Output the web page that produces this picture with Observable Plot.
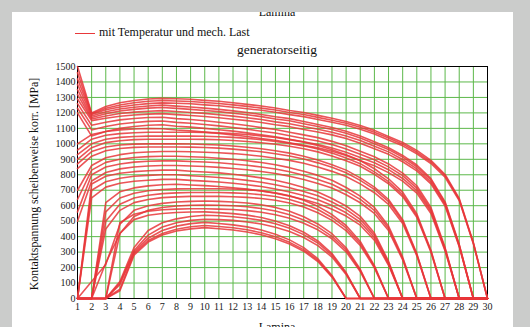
<!DOCTYPE html>
<html><head><meta charset="utf-8">
<script src="https://cdn.jsdelivr.net/npm/d3@7"></script>
<script src="https://cdn.jsdelivr.net/npm/@observablehq/plot@0.6"></script>
<style>
html,body{margin:0;padding:0;background:#cbcccb;width:530px;height:327px;overflow:hidden;}
#panel{position:absolute;left:12px;top:12px;width:501px;height:315px;background:#fff;overflow:hidden;font-family:"Liberation Serif","Times New Roman",serif;color:#111;}
.t{position:absolute;white-space:nowrap;line-height:1;}
#chart{position:absolute;left:0;top:0;}
</style></head><body>
<div id="panel">
  <div class="t" style="left:265px;top:-6px;font-size:12px;transform:translateX(-50%);">Lamina</div>
  <div style="position:absolute;left:63px;top:21px;width:20px;height:1px;background:#e8383a;"></div>
  <div class="t" style="left:87px;top:13.5px;font-size:12px;">mit Temperatur und mech. Last</div>
  <div class="t" style="left:265px;top:30.7px;font-size:13.5px;transform:translateX(-50%);">generatorseitig</div>
  <div class="t" style="left:23px;top:172px;font-size:11.8px;transform:translate(-50%,-50%) rotate(-90deg);">Kontaktspannung scheibenweise korr. [MPa]</div>
  <div class="t" style="left:265px;top:309px;font-size:12px;transform:translateX(-50%);">Lamina</div>
  <div id="chart"></div>
</div>
<script>
const lamina = [1,2,3,4,5,6,7,8,9,10,11,12,13,14,15,16,17,18,19,20,21,22,23,24,25,26,27,28,29,30];
const xTicks = [1,2,3,4,5,6,7,8,9,10,11,12,13,14,15,16,17,18,19,20,21,22,23,24,25,26,27,28,29,30];
const yTicks = [0,100,200,300,400,500,600,700,800,900,1000,1100,1200,1300,1400,1500];

const c01 = [1500,1200,1242,1266,1280,1290,1294,1291,1288,1281,1275,1266,1255,1245,1232,1216,1203,1184,1165,1145,1119,1087,1048,1009,958,893,802,647,362,0];
const c02 = [1460,1195,1230,1251,1266,1275,1280,1277,1274,1267,1261,1252,1242,1231,1219,1203,1190,1171,1152,1133,1107,1075,1037,998,947,883,794,640,358,0];
const c03 = [1420,1190,1220,1238,1251,1260,1265,1262,1259,1252,1246,1237,1227,1217,1204,1189,1176,1157,1139,1120,1094,1063,1025,987,936,873,784,633,354,0];
const c04 = [1385,1180,1208,1225,1237,1245,1250,1244,1238,1231,1223,1213,1203,1190,1175,1163,1144,1125,1106,1081,1050,1013,975,925,863,775,625,350,0,0];
const c05 = [1350,1170,1195,1212,1223,1231,1235,1229,1223,1216,1208,1198,1188,1176,1161,1149,1130,1112,1093,1068,1037,1000,963,914,852,766,618,346,0,0];
const c06 = [1320,1160,1180,1196,1205,1211,1215,1209,1203,1197,1188,1179,1169,1157,1142,1130,1112,1094,1075,1051,1021,984,948,899,838,753,608,340,0,0];
const c07 = [1290,1150,1165,1178,1186,1192,1195,1189,1183,1177,1169,1159,1150,1138,1123,1111,1093,1076,1058,1034,1004,968,932,884,825,741,598,335,0,0];
const c08 = [1260,1120,1140,1155,1164,1170,1172,1163,1157,1149,1140,1130,1119,1105,1093,1075,1058,1040,1016,987,952,917,870,811,729,588,329,0,0,0];
const c09 = [1230,1090,1112,1128,1138,1145,1148,1139,1133,1125,1116,1106,1095,1081,1070,1052,1035,1018,995,966,932,897,851,794,713,575,322,0,0,0];
const c10 = [1200,1050,1080,1100,1112,1120,1123,1114,1108,1100,1091,1082,1071,1058,1046,1029,1013,996,973,945,911,878,833,776,698,563,315,0,0,0];
const c11 = [1000,1060,1080,1090,1096,1099,1098,1089,1084,1076,1067,1058,1047,1034,1023,1007,990,974,952,924,891,858,814,759,682,550,308,0,0,0];
const c12 = [960,1030,1055,1066,1072,1075,1075,1075,1075,1074,1071,1066,1060,1051,1041,1027,1011,989,962,930,892,839,774,688,548,312,0,0,0,0];
const c13 = [930,1000,1030,1042,1047,1050,1050,1050,1050,1049,1046,1042,1035,1027,1016,1003,987,966,940,908,872,819,756,672,536,305,0,0,0,0];
const c14 = [900,975,1008,1020,1027,1030,1030,1030,1030,1029,1026,1022,1015,1007,997,984,968,948,922,891,855,803,742,659,525,299,0,0,0,0];
const c15 = [870,950,980,992,998,1000,1000,1000,999,996,992,986,978,968,955,940,920,895,865,830,780,720,640,510,290,0,0,0,0,0];
const c16 = [840,920,955,970,977,980,980,980,979,976,972,966,958,949,936,921,902,877,848,813,764,706,627,500,284,0,0,0,0,0];
const c17 = [700,860,910,930,942,947,950,950,949,946,942,937,929,920,907,893,874,850,822,789,741,684,608,485,276,0,0,0,0,0];
const c18 = [640,830,880,900,912,917,920,920,916,913,907,900,891,879,865,846,823,796,764,718,662,589,469,267,0,0,0,0,0,0];
const c19 = [560,800,850,870,882,887,890,890,886,883,878,870,862,850,837,819,797,770,739,694,641,570,454,258,0,0,0,0,0,0];
const c20 = [500,760,815,838,850,857,860,860,857,853,848,841,832,821,808,791,770,744,714,671,619,550,439,249,0,0,0,0,0,0];
const c21 = [0,740,790,810,820,826,830,830,823,818,812,803,793,780,764,743,718,689,647,598,531,423,241,0,0,0,0,0,0,0];
const c22 = [0,700,755,778,790,796,800,800,794,789,782,774,764,752,736,716,692,664,624,576,512,408,232,0,0,0,0,0,0,0];
const c23 = [0,650,720,745,758,765,770,770,764,759,753,745,735,724,708,689,666,639,601,554,493,393,223,0,0,0,0,0,0,0];
const c24 = [0,0,620,690,715,728,735,739,734,730,724,716,707,696,681,662,640,614,577,533,474,377,215,0,0,0,0,0,0,0];
const c25 = [0,0,560,650,680,697,705,709,710,710,710,708,704,696,683,664,635,596,543,472,369,213,0,0,0,0,0,0,0,0];
const c26 = [0,0,500,610,650,668,678,683,685,685,685,683,679,671,659,640,613,575,524,456,356,206,0,0,0,0,0,0,0,0];
const c27 = [0,0,450,570,620,640,652,657,660,660,660,658,654,647,635,617,591,554,505,439,343,198,0,0,0,0,0,0,0,0];
const c28 = [0,110,220,480,570,600,615,624,628,630,628,624,617,606,589,564,529,482,419,328,189,0,0,0,0,0,0,0,0,0];
const c29 = [0,0,230,420,530,570,588,598,603,605,603,600,593,582,566,541,508,463,402,315,182,0,0,0,0,0,0,0,0,0];
const c30 = [0,0,0,490,545,565,574,578,580,580,578,575,568,558,542,519,487,444,386,302,174,0,0,0,0,0,0,0,0,0];
const c31 = [0,0,0,420,510,538,550,556,559,560,555,549,539,524,501,470,428,372,291,168,0,0,0,0,0,0,0,0,0,0];
const c32 = [0,0,0,110,330,440,490,515,530,538,535,529,519,505,483,454,413,359,281,162,0,0,0,0,0,0,0,0,0,0];
const c33 = [0,0,0,100,310,410,462,490,505,512,510,505,495,482,461,433,394,342,268,155,0,0,0,0,0,0,0,0,0,0];
const c34 = [0,0,0,90,300,390,440,468,484,492,485,476,463,443,416,379,329,257,149,0,0,0,0,0,0,0,0,0,0,0];
const c35 = [0,0,0,60,290,375,420,448,464,472,466,457,444,425,399,363,316,247,143,0,0,0,0,0,0,0,0,0,0,0];
const c36 = [0,0,0,50,280,365,410,436,450,458,451,443,430,412,386,352,306,239,138,0,0,0,0,0,0,0,0,0,0,0];

const curves = [c01,c02,c03,c04,c05,c06,c07,c08,c09,c10,c11,c12,c13,c14,c15,c16,c17,c18,c19,c20,c21,c22,c23,c24,c25,c26,c27,c28,c29,c30,c31,c32,c33,c34,c35,c36];
const rows = [];
curves.forEach((c, i) => c.forEach((v, j) => rows.push({curve: i, lamina: lamina[j], value: v})));

const chart = Plot.plot({
  width: 501,
  height: 315,
  marginLeft: 65,
  marginRight: 26,
  marginTop: 54,
  marginBottom: 29,
  style: {background: "transparent", fontFamily: "'Liberation Serif','Times New Roman',serif", fontSize: "10px", color: "#1a1a22", overflow: "visible"},
  x: {domain: [1, 30], ticks: xTicks, tickSize: 0, tickPadding: 4, label: null, tickFormat: d => String(d)},
  y: {domain: [0, 1500], ticks: yTicks, tickSize: 0, tickPadding: 2, label: null, tickFormat: d => String(d)},
  marks: [
    Plot.ruleX(xTicks, {stroke: "#5cb84a", strokeWidth: 1}),
    Plot.ruleY(yTicks, {stroke: "#5cb84a", strokeWidth: 1}),
    Plot.frame({stroke: "#000", strokeWidth: 1}),
    Plot.line(rows, {x: "lamina", y: "value", z: "curve", stroke: "#e8363a", strokeWidth: 1.6, strokeOpacity: 0.85})
  ]
});
document.getElementById("chart").appendChild(chart);
</script>
</body></html>
